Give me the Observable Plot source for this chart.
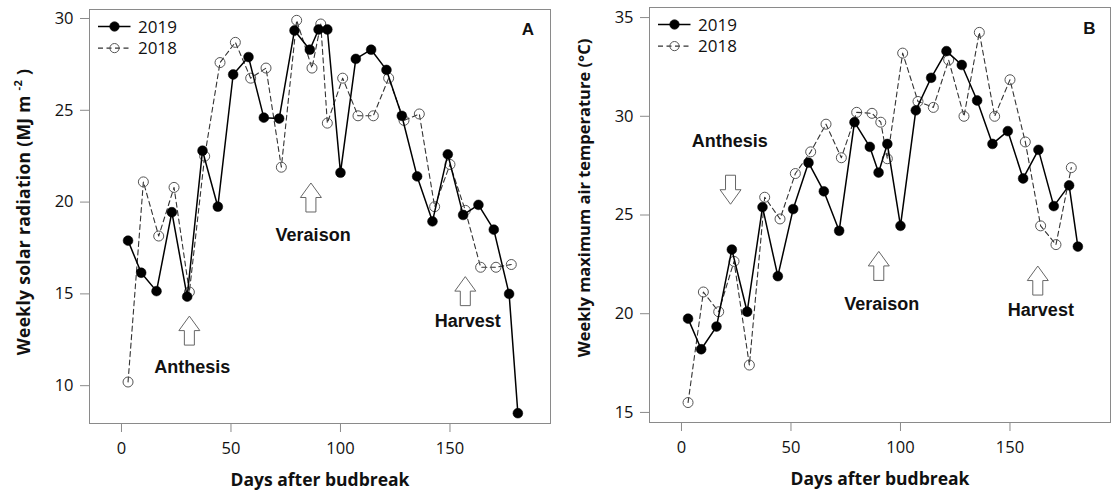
<!DOCTYPE html>
<html>
<head>
<meta charset="utf-8">
<script src="https://cdn.jsdelivr.net/npm/d3@7"></script>
<script src="https://cdn.jsdelivr.net/npm/@observablehq/plot@0.6"></script>
<style>
  html, body { margin: 0; padding: 0; background: white; }
  #wrap { display: flex; width: 1112px; height: 494px; }
</style>
</head>
<body>
<div id="wrap"></div>
<script>
// ---------- data ----------
const seriesNames = ["2019", "2018"];
const days2019 = [3, 9, 16, 23, 30, 37, 44, 51, 58, 65, 72, 79, 86, 90, 94, 100, 107, 114, 121, 128, 135, 142, 149, 156, 163, 170, 177, 181];
const days2018 = [3, 10, 17, 24, 31, 38, 45, 52, 59, 66, 73, 80, 87, 91, 94, 101, 108, 115, 122, 129, 136, 143, 150, 157, 164, 171, 178];

const solar2019 = [17.9, 16.15, 15.15, 19.45, 14.85, 22.8, 19.75, 26.95, 27.9, 24.6, 24.55, 29.35, 28.3, 29.4, 29.4, 21.6, 27.8, 28.3, 27.2, 24.7, 21.4, 18.95, 22.6, 19.3, 19.85, 18.5, 15.0, 8.5];
const solar2018 = [10.2, 21.1, 18.15, 20.8, 15.1, 22.5, 27.6, 28.7, 26.75, 27.3, 21.9, 29.9, 27.3, 29.7, 24.3, 26.75, 24.7, 24.7, 26.75, 24.45, 24.8, 19.75, 22.05, 19.55, 16.45, 16.45, 16.6];

const tmax2019 = [19.75, 18.2, 19.35, 23.25, 20.1, 25.4, 21.9, 25.3, 27.65, 26.2, 24.2, 29.7, 28.45, 27.15, 28.6, 24.45, 30.3, 31.95, 33.3, 32.6, 30.8, 28.6, 29.25, 26.85, 28.3, 25.45, 26.5, 23.4];
const tmax2018 = [15.5, 21.1, 20.1, 22.65, 17.4, 25.9, 24.8, 27.1, 28.2, 29.6, 27.9, 30.2, 30.15, 29.7, 27.85, 33.2, 30.75, 30.45, 32.85, 30.0, 34.25, 30.0, 31.85, 28.7, 24.45, 23.5, 27.4];

const xTicks = [0, 50, 100, 150];
const solarTicks = [10, 15, 20, 25, 30];
const tmaxTicks = [15, 20, 25, 30, 35];

const eventNames = ["Anthesis", "Veraison", "Harvest"];
const solarArrowDays = [31, 86.5, 157];
const solarArrowValues = [13.0, 20.25, 15.15];
const solarArrowDirs = ["up", "up", "up"];
const solarLabelDays = [32.3, 87.5, 158.1];
const solarLabelValues = [11.0, 18.18, 13.51];
const tmaxArrowDays = [22.4, 90.1, 162.7];
const tmaxArrowValues = [26.28, 22.42, 21.68];
const tmaxArrowDirs = ["down", "up", "up"];
const tmaxLabelDays = [22.1, 91.4, 164.1];
const tmaxLabelValues = [28.74, 20.5, 20.16];

// ---------- helpers ----------
const FONT = "'Open Sans', 'DejaVu Sans', sans-serif";
const BOLDFONT = "'Liberation Sans', Arial, sans-serif";

const blockArrow = {
  draw(ctx, size) {
    const k = Math.sqrt(size / Math.PI) / 14.5;
    ctx.moveTo(0, -14.5 * k);
    ctx.lineTo(10.5 * k, 0 * k);
    ctx.lineTo(5 * k, 0 * k);
    ctx.lineTo(5 * k, 14.5 * k);
    ctx.lineTo(-5 * k, 14.5 * k);
    ctx.lineTo(-5 * k, 0 * k);
    ctx.lineTo(-10.5 * k, 0 * k);
    ctx.closePath();
  }
};

function toRows(days, vals, name) {
  return days.map((d, i) => ({day: d, value: vals[i], year: name}));
}

function legendMark(index, scales, values, dims) {
  const ml = dims.marginLeft, mt = dims.marginTop;
  const g = d3.create("svg:g");
  seriesNames.forEach((name, i) => {
    const y = mt + 17.5 + i * 21.6;
    const solid = i === 0;
    g.append("line")
      .attr("x1", ml + 9).attr("x2", ml + 41.5).attr("y1", y).attr("y2", y)
      .attr("stroke", solid ? "#000" : "#333").attr("stroke-width", solid ? 1.5 : 1.1)
      .attr("stroke-dasharray", solid ? null : "5,3.5");
    g.append("circle")
      .attr("cx", ml + 25.5).attr("cy", y).attr("r", 4.6)
      .attr("fill", solid ? "#000" : "none")
      .attr("stroke", solid ? "#000" : "#555").attr("stroke-width", 1);
    g.append("text")
      .attr("x", ml + 49).attr("y", y).attr("dy", "0.36em")
      .attr("text-anchor", "start")
      .attr("font-family", FONT).attr("font-size", 17).attr("fill", "#111")
      .text(name);
  });
  return g.node();
}

function yTitleMark(mainText, supText, closeText, offsetX, cy, fontSize, spacing) {
  return (index, scales, values, dims) => {
    const g = d3.create("svg:g");
    const t = g.append("text")
      .attr("transform", `translate(${dims.marginLeft - offsetX},${cy}) rotate(-90)`)
      .attr("text-anchor", "middle").attr("dy", "0.36em")
      .attr("font-family", FONT).attr("font-weight", 700).attr("font-size", fontSize)
      .attr("letter-spacing", spacing)
      .attr("fill", "#111");
    t.append("tspan").text(mainText);
    if (supText) {
      t.append("tspan").attr("font-size", fontSize * 0.64).attr("dy", "-0.75em").text(supText);
      t.append("tspan").attr("dy", "0.47em").text(closeText);
    }
    return g.node();
  };
}

function panel(cfg) {
  const rows2019 = toRows(days2019, cfg.v2019, "2019");
  const rows2018 = toRows(days2018, cfg.v2018, "2018");
  const arrows = eventNames.map((n, i) => ({name: n, day: cfg.arrowDays[i], value: cfg.arrowValues[i], dir: cfg.arrowDirs[i]}));
  const labels = eventNames.map((n, i) => ({name: n, day: cfg.labelDays[i], value: cfg.labelValues[i]}));
  return Plot.plot({
    width: 556,
    height: 494,
    marginLeft: cfg.ml,
    marginRight: cfg.mr,
    marginTop: cfg.mt,
    marginBottom: cfg.mb,
    style: {fontFamily: FONT, fontSize: "16px", color: "#111", background: "white"},
    x: {domain: [-14.6, 195.9], ticks: xTicks},
    y: {domain: cfg.yDomain, ticks: cfg.yTicks},
    marks: [
      Plot.frame({stroke: "#8a8a8a", strokeWidth: 1}),
      Plot.axisX({ticks: xTicks, tickSize: 9, tickPadding: 10, stroke: "#8a8a8a", label: null, fontSize: 16.5}),
      Plot.axisY({ticks: cfg.yTicks, tickSize: 9, tickPadding: 7, stroke: "#8a8a8a", label: null, fontSize: 16.5}),
      Plot.text(["Days after budbreak"], {frameAnchor: "bottom", dy: 57, text: d => d, fontWeight: 700, fontSize: 17.5, fill: "#111", lineAnchor: "middle"}),
      yTitleMark(cfg.yTitle, cfg.ySup, cfg.yClose, 65, cfg.titleCy, cfg.titleSize, cfg.titleSpacing),
      Plot.text([cfg.letter], {frameAnchor: "top-right", dx: cfg.letterDx, dy: cfg.letterDy, text: d => d, fontFamily: BOLDFONT, fontWeight: 700, fontSize: 17, fill: "#111", lineAnchor: "middle", textAnchor: "middle"}),
      Plot.dot(arrows, {x: "day", y: "value", symbol: blockArrow, r: 14.5, rotate: d => d.dir === "down" ? 180 : 0, fill: "white", stroke: "#666", strokeWidth: 1}),
      Plot.text(labels, {x: "day", y: "value", text: "name", fontFamily: BOLDFONT, fontWeight: 700, fontSize: 18, fill: "#111", lineAnchor: "middle"}),
      Plot.line(rows2018, {x: "day", y: "value", stroke: "#333", strokeWidth: 1.1, strokeDasharray: "5,3.5"}),
      Plot.dot(rows2018, {x: "day", y: "value", r: 5, fill: "none", stroke: "#555", strokeWidth: 1}),
      Plot.line(rows2019, {x: "day", y: "value", stroke: "#000", strokeWidth: 1.5}),
      Plot.dot(rows2019, {x: "day", y: "value", r: 4.9, fill: "#000", stroke: "#000", strokeWidth: 0.5}),
      legendMark
    ]
  });
}

const wrap = document.getElementById("wrap");
wrap.append(panel({
  v2019: solar2019, v2018: solar2018,
  yDomain: [7.94, 30.49], yTicks: solarTicks,
  yTitle: "Weekly solar radiation (MJ m ", ySup: "-2", yClose: " )",
  titleCy: 212, titleSize: 17.5, titleSpacing: 0.3,
  letter: "A", letterDx: -22.5, letterDy: 20,
  arrowDays: solarArrowDays, arrowValues: solarArrowValues, arrowDirs: solarArrowDirs,
  labelDays: solarLabelDays, labelValues: solarLabelValues,
  ml: 89, mr: 6, mt: 9, mb: 71
}));
wrap.append(panel({
  v2019: tmax2019, v2018: tmax2018,
  yDomain: [14.49, 35.51], yTicks: tmaxTicks,
  yTitle: "Weekly maximum air temperature (°C)", ySup: null, yClose: null,
  titleCy: 198, titleSize: 16.5, titleSpacing: 0,
  letter: "B", letterDx: -21, letterDy: 21,
  arrowDays: tmaxArrowDays, arrowValues: tmaxArrowValues, arrowDirs: tmaxArrowDirs,
  labelDays: tmaxLabelDays, labelValues: tmaxLabelValues,
  ml: 93, mr: 2, mt: 7, mb: 72
}));
</script>
</body>
</html>
